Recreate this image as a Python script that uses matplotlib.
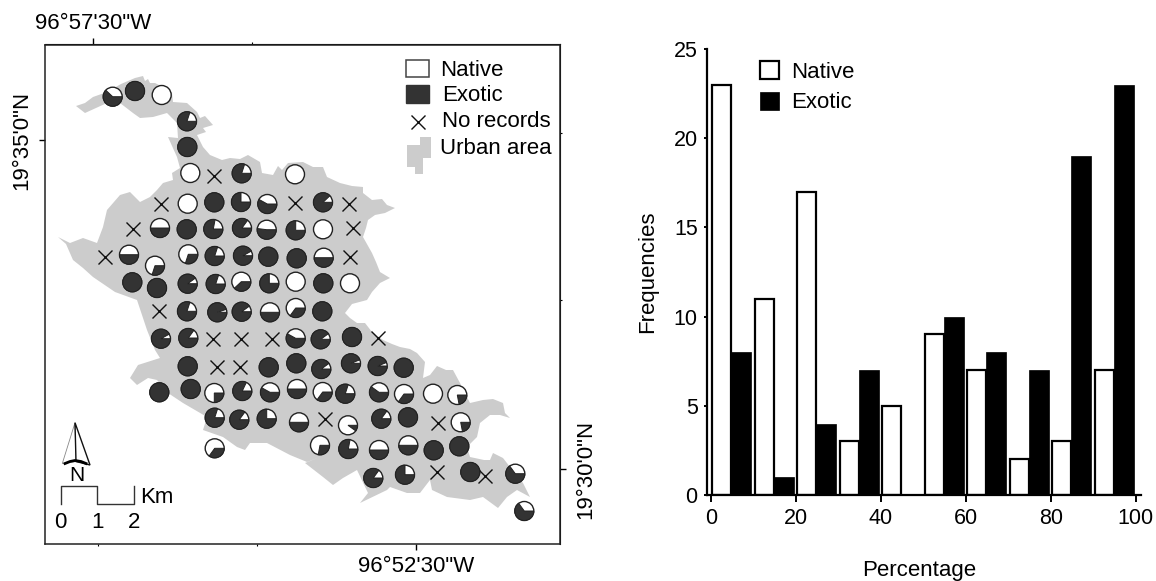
import matplotlib
matplotlib.use("Agg")
import matplotlib.pyplot as plt
from matplotlib.patches import Circle, Wedge, Polygon, Rectangle

plt.rcParams["font.family"] = ["Liberation Sans", "DejaVu Sans"]
plt.rcParams["font.size"] = 16

W, H = 1156, 581
DARK = "#333333"
GREY = "#cccccc"

# map sites, position on the sheet and share of native species
site_x = [112.7, 135, 161.7, 187, 187.3, 190.3, 241.7, 295,
          187.7, 214.3, 241, 267.3, 323,
          160, 186.7, 213.3, 242, 266.7, 295.7, 323,
          129, 155, 188.3, 214.7, 243, 268.3, 296.7, 323.7,
          132.3, 157, 187.7, 215.7, 241.3, 269.3, 295.7, 323.3, 350,
          187, 217.3, 241.7, 270, 295.7, 322.3,
          161, 188.3, 295.7, 320.7, 352,
          187.7, 268.7, 296.3, 321.3, 351, 377.7, 403.7,
          159.3, 190.7, 214.3, 242.3, 270, 297, 322.7, 345.3, 379, 404, 433, 457.3,
          214.7, 239.3, 266.7, 299, 348, 381.3, 408, 460.7,
          214.7, 320, 348.3, 379, 408.3, 433.7, 459.3,
          373.3, 405, 470.3, 515.3, 524.3]
site_y = [96.7, 91, 95, 121.3, 147, 173, 173.3, 174.3,
          203.7, 202.3, 202, 204, 202.3,
          228, 229.3, 229, 228, 229.7, 230.3, 229.3,
          254.7, 265.7, 254.3, 256, 255.7, 256.7, 258.3, 257.7,
          282.3, 288, 283.7, 284, 281.7, 283.3, 281.7, 283.3, 283.3,
          311.3, 312.3, 311.7, 312.3, 308, 311.3,
          338.7, 338, 338.3, 339.3, 337,
          366.3, 367.3, 363.3, 369, 363.3, 366, 367.7,
          392.3, 389, 393, 391, 392.3, 389, 392, 393.7, 392.3, 394, 393.7, 395,
          417.7, 419.7, 418.7, 422.3, 425.3, 418.7, 417.3, 422.3,
          448.3, 445.3, 449, 450, 445.3, 450.3, 446.3,
          478, 474.7, 472, 473.7, 511]
native_share = [0.38, 0, 1, 0.2, 0, 1, 0.2, 1,
                1, 0, 0.25, 0.42, 0.12,
                0.5, 0, 0.22, 0.15, 0.48, 0.25, 1,
                0.5, 0.7, 0.7, 0.2, 0.08, 0, 0, 0.5,
                0, 0, 0.1, 0.2, 0.62, 0.25, 1, 0, 1,
                0.2, 0.05, 0.1, 0.5, 0.65, 0,
                0.08, 0.15, 0.42, 0.1, 0,
                0, 0, 0, 0.1, 0.06, 0.06, 0,
                0, 0, 0.75, 0.18, 0.42, 0.5, 0.65, 0.2, 0.4, 0.65, 1, 0.78,
                0.2, 0.15, 0.25, 0.5, 0.9, 0.15, 0, 0.78,
                0.65, 0.72, 0.22, 0.5, 0.5, 0, 0,
                0.15, 0.25, 0, 0.35, 0.35]

none_x = [213.7, 161.3, 295.3, 349, 133, 353, 105.3, 350, 159, 213.3, 241, 272.3,
          378, 216.7, 240, 325, 437.7, 437.3, 485]
none_y = [176.3, 203.7, 202.7, 204.3, 229.3, 228.3, 256.7, 256.7, 311, 339, 339.3, 339,
          338.3, 367.3, 367, 419, 423.3, 471.7, 476]

urban_outline = [(76, 106), (85, 103), (93, 97), (107, 92), (121, 84), (135, 78), (143, 76),
                 (145, 81), (148, 79), (150, 83), (155, 83), (165, 88), (172, 93), (173, 102),
                 (187, 103), (197, 112), (200, 118), (205, 116), (213, 125), (203, 128),
                 (206, 132), (197, 135), (203, 147), (210, 155), (222, 160), (230, 158),
                 (240, 159), (248, 155), (260, 162), (262, 173), (273, 175), (278, 166),
                 (282, 170), (288, 163), (303, 162), (313, 167), (323, 167), (327, 177),
                 (340, 183), (352, 186), (363, 187), (363, 193), (372, 200), (382, 199),
                 (387, 205), (395, 208), (385, 213), (375, 215), (368, 220), (366, 228),
                 (363, 237), (372, 253), (376, 262), (380, 272), (390, 278), (380, 283),
                 (372, 292), (367, 300), (352, 304), (345, 313), (350, 318), (357, 323),
                 (365, 323), (372, 332), (383, 340), (392, 344), (400, 347), (410, 349),
                 (417, 353), (425, 362), (423, 378), (430, 375), (437, 366), (446, 370),
                 (453, 370), (460, 383), (470, 403), (483, 400), (493, 399), (503, 403),
                 (505, 413), (510, 418), (500, 415), (490, 415), (480, 423), (477, 437),
                 (467, 447), (470, 457), (484, 460), (490, 460), (493, 453), (503, 458),
                 (510, 467), (523, 483), (530, 497), (517, 490), (507, 497), (498, 508),
                 (483, 497), (470, 500), (447, 497), (432, 490), (430, 480), (420, 493),
                 (407, 493), (390, 487), (387, 490), (360, 503), (368, 493), (357, 470),
                 (343, 478), (333, 485), (323, 477), (305, 463), (320, 457), (307, 462),
                 (290, 455), (267, 443), (250, 443), (245, 450), (237, 447), (223, 437),
                 (203, 430), (207, 417), (183, 403), (168, 393), (157, 380), (148, 378),
                 (137, 385), (130, 378), (138, 365), (160, 358), (155, 350), (147, 330),
                 (137, 300), (115, 292), (93, 277), (83, 268), (73, 260), (66, 244), (58, 237),
                 (70, 243), (83, 238), (97, 243), (103, 227), (107, 210), (120, 195),
                 (130, 192), (140, 202), (150, 197), (157, 190), (163, 183), (173, 180),
                 (172, 173), (180, 168), (177, 157), (168, 137), (178, 138), (177, 123),
                 (167, 113), (153, 117), (140, 118), (133, 113), (120, 103), (107, 103),
                 (85, 113)]

# histogram of percentages
bin_native = [0, 10, 20, 30, 40, 50, 60, 70, 80, 90]
freq_native = [23, 11, 17, 3, 5, 9, 7, 2, 3, 7]
bin_exotic = [5, 15, 25, 35, 45, 55, 65, 75, 85, 95]
freq_exotic = [8, 1, 4, 7, 0, 10, 8, 7, 19, 23]

fig = plt.figure(figsize=(W / 100, H / 100), dpi=100)


def axes_px(left, top, right, bottom):
    return fig.add_axes([left / W, 1 - bottom / H, (right - left) / W, (bottom - top) / H])


# ---- map, data units are sheet pixels
ax = axes_px(45, 44.5, 560, 544)
ax.set_xlim(45, 560)
ax.set_ylim(544, 44.5)
for s in ax.spines.values():
    s.set_linewidth(1.1)
    s.set_color("#222222")

ax.add_patch(Polygon(urban_outline, closed=True, fc=GREY, ec="none"))

for x, y, f in zip(site_x, site_y, native_share):
    ax.add_patch(Circle((x, y), 9.5, fc="white", ec="#222222", lw=1.0, zorder=3))
    if f < 1:
        # y axis is flipped, so the angle runs clockwise on screen
        ax.add_patch(Wedge((x, y), 9.5, 0, 360 * (1 - f), fc=DARK, ec="#222222", lw=0.7, zorder=4))

ax.plot(none_x, none_y, ls="none", marker="x", ms=9.5, mew=1.0, color="#111111", zorder=3)

# map ticks
ax.set_xticks([416], ["96°52'30\"W"])
ax.set_xticks([98, 257], minor=True)
ax.set_yticks([140], ["19°35'0\"N"], rotation=90, va="center")
ax.tick_params(axis="both", which="major", length=4, width=1, pad=5, labelsize=16)
ax.tick_params(axis="both", which="minor", length=1.5, width=0.8)
top = ax.secondary_xaxis("top")
top.set_xticks([93], ["96°57'30\"W"])
top.set_xticks([252], minor=True)
top.tick_params(which="major", length=4, width=1, pad=3.5, labelsize=16)
top.tick_params(which="minor", length=1.5, width=0.8)
right = ax.secondary_yaxis("right")
right.set_yticks([469], ["19°30'0\"N"], rotation=90, va="center")
right.set_yticks([133, 300], minor=True)
right.tick_params(which="major", length=4, width=1, pad=7, labelsize=16)
right.tick_params(which="minor", length=1.5, width=0.8)

# map legend
ax.add_patch(Rectangle((405.7, 60), 23.6, 17.3, fc="white", ec="#444444", lw=1.1))
ax.add_patch(Rectangle((405.7, 85.3), 23.6, 18, fc=DARK, ec=DARK, lw=1))
ax.plot([418.3], [122], marker="x", ms=9.5, mew=1.0, color="#111111")
ax.add_patch(Polygon([(420, 137), (431, 137), (431, 158), (423, 158), (423, 174), (415, 174),
                      (415, 167), (407, 167), (407, 145), (420, 145)], fc=GREY, ec="none"))
ax.text(440.5, 70, "Native", va="center")
ax.text(442, 95.5, "Exotic", va="center")
ax.text(442, 121.5, "No records", va="center")
ax.text(440, 148.5, "Urban area", va="center")

# north arrow and scale bar
ax.add_patch(Polygon([(75, 422.7), (62.3, 463.5), (76, 461.5)], fc="white", ec="#888888", lw=0.6))
ax.add_patch(Polygon([(75, 422.7), (90, 465), (76, 461.5)], fc="white", ec="#111111", lw=1.0))
ax.plot([65, 70, 75, 81, 86], [463.5, 461.5, 460.5, 461.5, 463.5], color="black", lw=2)
ax.text(76.5, 475, "N", ha="center", va="center", fontsize=15)
ax.plot([60.7, 60.7, 97.3, 97.3, 134, 134], [504, 485.7, 485.7, 504, 504, 485.7],
        color="#333333", lw=1)
ax.text(140, 497, "Km", va="center")
for x, t in zip([60.7, 97.3, 134], ["0", "1", "2"]):
    ax.text(x, 522.7, t, ha="center", va="center")

# ---- histogram
bx = axes_px(706.7, 49, 1141, 495)
bx.set_xlim(-1.0, 101.2)
bx.set_ylim(0, 25)
b1 = bx.bar([v + 0.3 for v in bin_native], freq_native, width=4.5, align="edge",
            fc="white", ec="black", lw=1.6, label="Native")
b2 = bx.bar([v - 0.2 for v in bin_exotic], freq_exotic, width=4.7, align="edge",
            fc="black", ec="black", lw=0.5, label="Exotic")
bx.spines[["top", "right"]].set_visible(False)
bx.spines["left"].set_linewidth(1.6)
bx.spines["bottom"].set_linewidth(1.6)
bx.set_xticks([0, 20, 40, 60, 80, 100])
bx.set_yticks([0, 5, 10, 15, 20, 25])
bx.tick_params(axis="x", length=5, width=1.4, pad=4, labelsize=15.5)
bx.tick_params(axis="y", length=2.5, width=1.4, pad=4, labelsize=15.5)
bx.set_xlabel("Percentage", fontsize=16, labelpad=22.5, x=0.49)
bx.set_ylabel("Frequencies", fontsize=16, labelpad=11)
bx.legend(loc="upper left", bbox_to_anchor=(0.122, 0.973), frameon=False, fontsize=16,
          handlelength=0.85, handleheight=0.85, handletextpad=0.55, labelspacing=0.42,
          borderpad=0, borderaxespad=0)

fig.savefig("out.png", dpi=100)
